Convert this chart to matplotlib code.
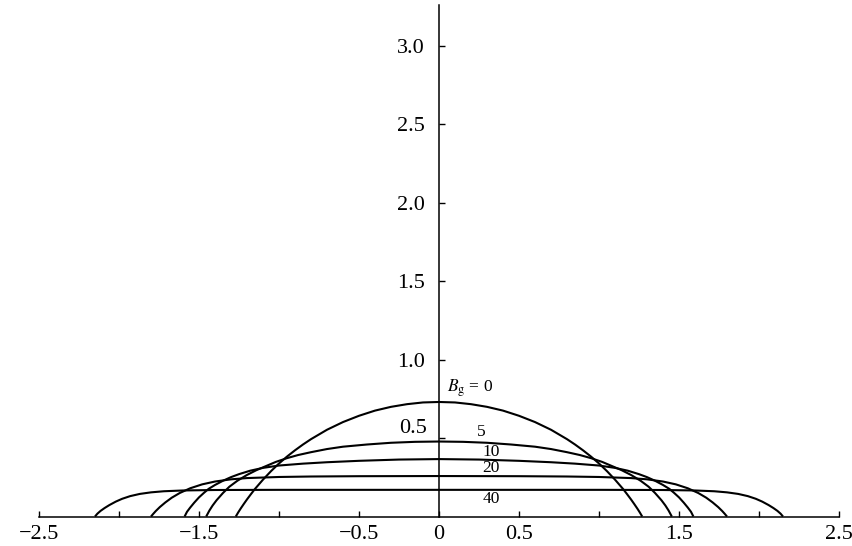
import numpy as np
import matplotlib.pyplot as plt

plt.rcParams['font.family'] = 'Liberation Serif'
plt.rcParams['mathtext.fontset'] = 'stix'

# half profiles (x >= 0), mirrored about x = 0
x_b0 = [0, 0.1, 0.2, 0.3, 0.4, 0.5, 0.6, 0.7, 0.8, 0.85, 0.9, 0.95, 1.0, 1.05,
        1.1, 1.15, 1.175, 1.2, 1.22, 1.24, 1.255, 1.27]
y_b0 = [0.730, 0.727, 0.716, 0.699, 0.675, 0.642, 0.602, 0.553, 0.493, 0.459, 0.422,
        0.382, 0.338, 0.289, 0.235, 0.176, 0.143, 0.109, 0.080, 0.050, 0.026, 0.0]

x_b5 = [0, 0.15, 0.3, 0.45, 0.6, 0.7, 0.8, 0.88, 0.95, 1.02, 1.08, 1.14, 1.2,
        1.26, 1.31, 1.35, 1.39, 1.415, 1.435, 1.455]
y_b5 = [0.478, 0.476, 0.470, 0.459, 0.445, 0.430, 0.410, 0.392, 0.372, 0.348, 0.322,
        0.296, 0.265, 0.228, 0.190, 0.150, 0.104, 0.070, 0.038, 0.0]

x_b10 = [0, 0.25, 0.5, 0.7, 0.85, 1.0, 1.1, 1.18, 1.25, 1.3, 1.35, 1.4, 1.44,
         1.47, 1.5, 1.53, 1.555, 1.575, 1.59]
y_b10 = [0.366, 0.363, 0.355, 0.346, 0.337, 0.325, 0.310, 0.292, 0.270, 0.251, 0.228,
         0.201, 0.176, 0.150, 0.122, 0.088, 0.057, 0.030, 0.0]

x_b20 = [0, 0.5, 0.8, 1.0, 1.2, 1.3, 1.4, 1.48, 1.555, 1.62, 1.67, 1.71, 1.745,
         1.77, 1.785, 1.8]
y_b20 = [0.258, 0.257, 0.255, 0.252, 0.245, 0.237, 0.223, 0.205, 0.180, 0.150, 0.120,
         0.090, 0.060, 0.035, 0.018, 0.0]

x_b40 = [0, 1.0, 1.4, 1.6, 1.72, 1.8, 1.87, 1.93, 1.98, 2.02, 2.06, 2.09, 2.115,
         2.135, 2.15]
y_b40 = [0.170, 0.170, 0.169, 0.166, 0.161, 0.154, 0.144, 0.130, 0.113, 0.095, 0.073,
         0.054, 0.036, 0.018, 0.0]

profiles = [(x_b0, y_b0), (x_b5, y_b5), (x_b10, y_b10), (x_b20, y_b20), (x_b40, y_b40)]

# curve labels: text, x, y
curve_labels = [(r'$B_\mathrm{g}$ = 0', 0.05, 0.82),
                ('5', 0.24, 0.54),
                ('10', 0.27, 0.41),
                ('20', 0.27, 0.31),
                ('40', 0.27, 0.11)]

x_ticks = [-2.5, -2.0, -1.5, -1.0, -0.5, 0, 0.5, 1.0, 1.5, 2.0, 2.5]
x_ticklabels = ['\u22122.5', '', '\u22121.5', '', '\u22120.5', '0', '0.5', '', '1.5', '', '2.5']
y_ticks = [0.5, 1.0, 1.5, 2.0, 2.5, 3.0]
y_ticklabels = ['', '1.0', '1.5', '2.0', '2.5', '3.0']

fig = plt.figure(figsize=(8.53, 5.46), dpi=100)
ax = fig.add_axes([0.0457, 0.054, 0.9379, 0.9368])

for xh, yh in profiles:
    xh = np.asarray(xh)
    yh = np.asarray(yh)
    xs = np.concatenate([-xh[::-1], xh[1:]])
    ys = np.concatenate([yh[::-1], yh[1:]])
    ax.plot(xs, ys, color='black', lw=1.5, solid_capstyle='butt', solid_joinstyle='round')

for txt, tx, ty in curve_labels:
    ax.text(tx, ty, txt, fontsize=12.5, ha='left', va='center')

# the 0.5 label sits a little above its tick
ax.text(-0.075, 0.564, '0.5', fontsize=16, ha='right', va='center')

ax.set_xlim(-2.5, 2.5)
ax.set_ylim(0, 3.26)
ax.spines['left'].set_position(('data', 0))
ax.spines['bottom'].set_position(('data', 0))
ax.spines['top'].set_visible(False)
ax.spines['right'].set_visible(False)
for s in ['left', 'bottom']:
    ax.spines[s].set_linewidth(1.1)

ax.set_xticks(x_ticks)
ax.set_xticklabels(x_ticklabels)
ax.set_yticks(y_ticks)
ax.set_yticklabels(y_ticklabels)
ax.tick_params(axis='x', direction='in', length=4, width=1, pad=6, labelsize=16)
ax.tick_params(axis='y', direction='in', length=4, width=1, pad=10, labelsize=16)

fig.savefig('out.png', dpi=100)
